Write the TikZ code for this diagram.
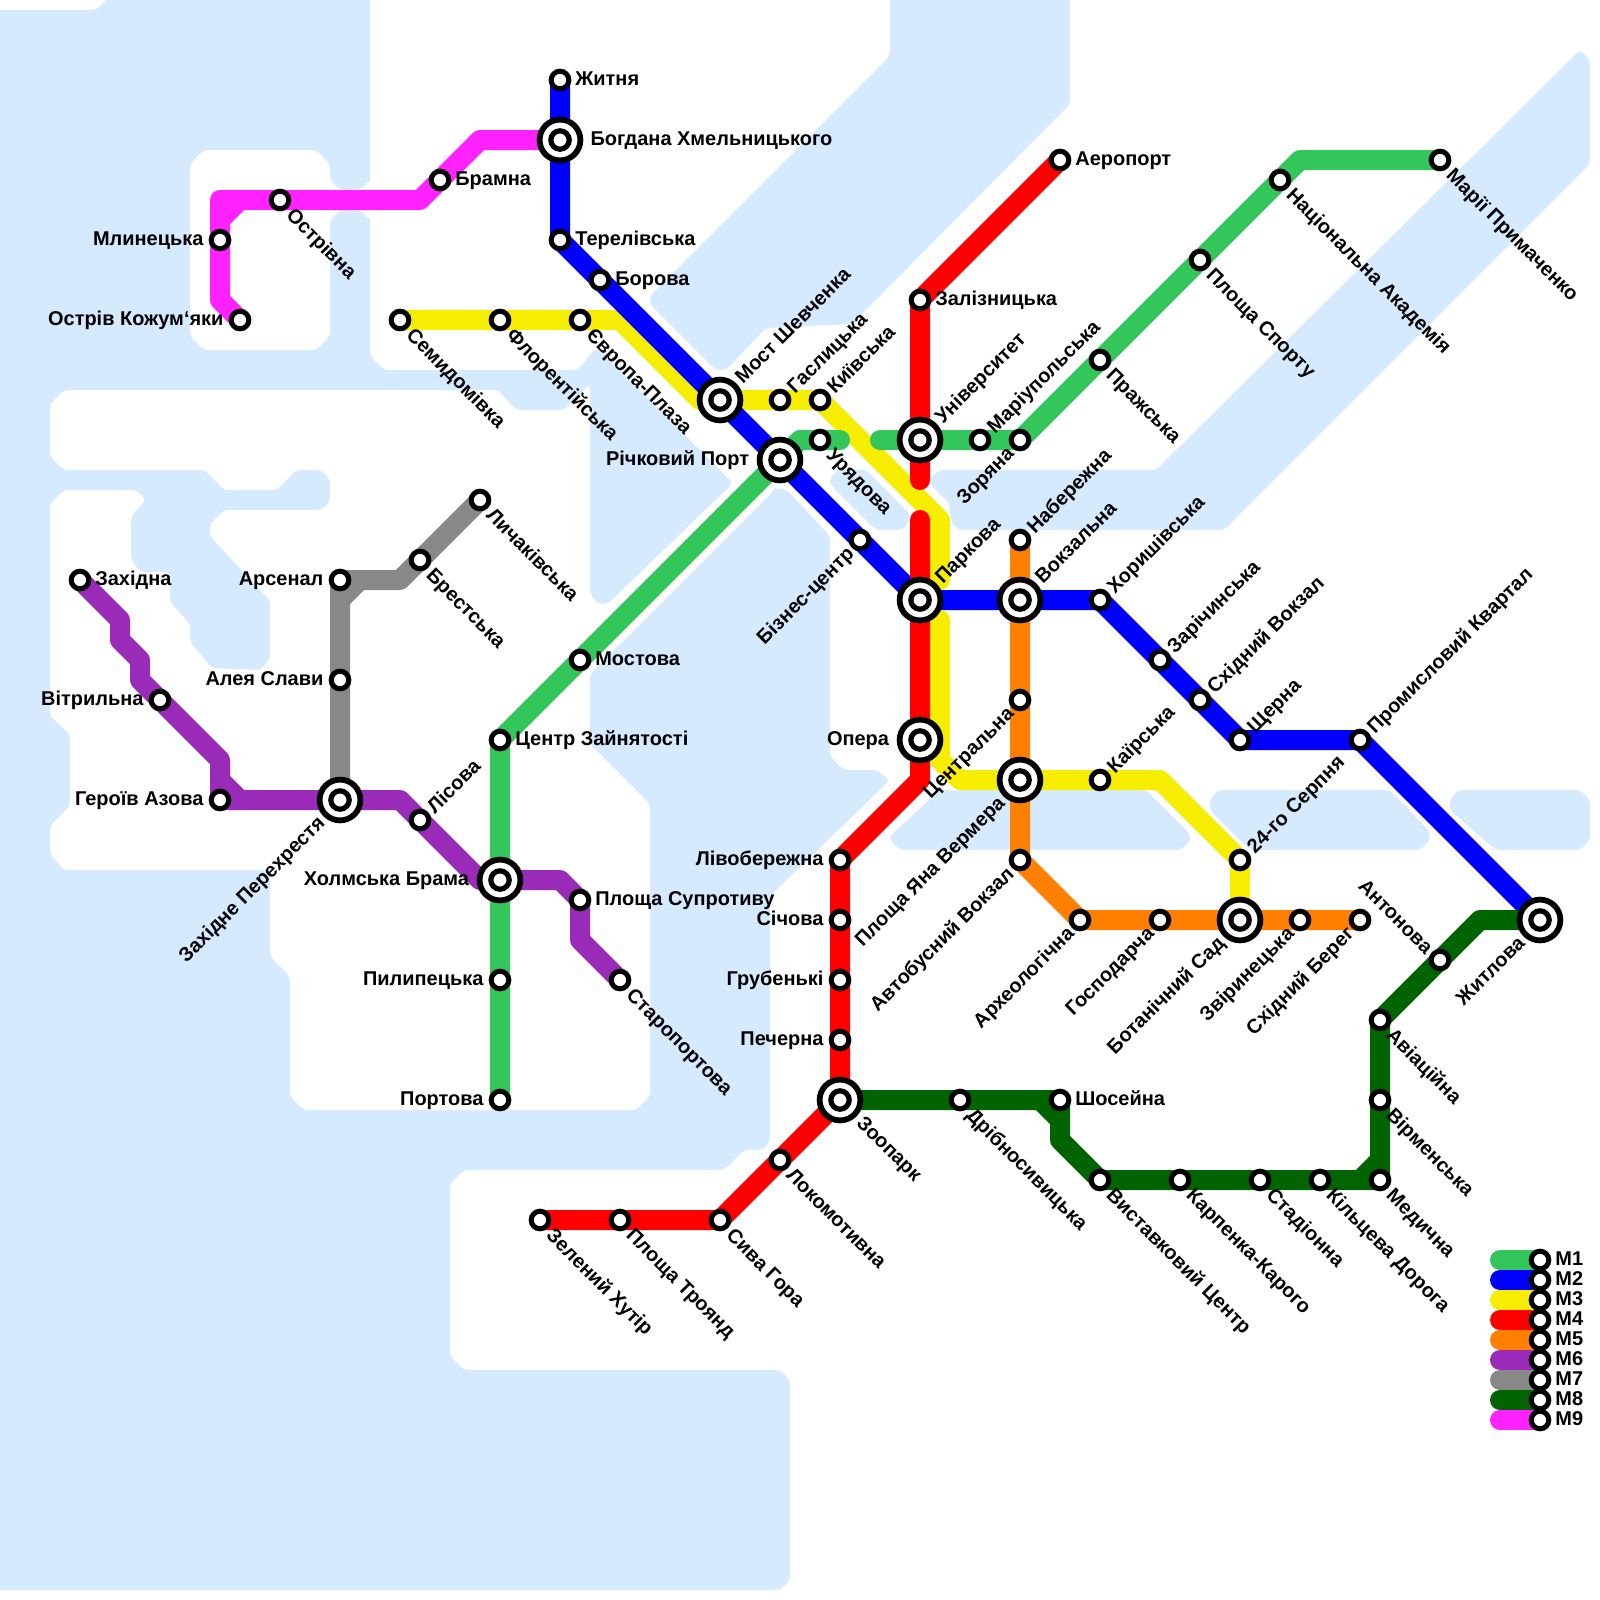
\documentclass[tikz,border=0pt]{standalone}
\usepackage{fontspec}
\setmainfont{Liberation Sans}
\usepackage{xcolor}
\usetikzlibrary{calc,positioning}
\definecolor{water}{HTML}{D5E9FF}
\definecolor{mone}{HTML}{33C65B}
\definecolor{mtwo}{HTML}{0000FF}
\definecolor{mthree}{HTML}{F6ED00}
\definecolor{mfour}{HTML}{FF0000}
\definecolor{mfive}{HTML}{FF8000}
\definecolor{msix}{HTML}{992BB8}
\definecolor{mseven}{HTML}{888888}
\definecolor{meight}{HTML}{006400}
\definecolor{mnine}{HTML}{FF22FF}
\pgfdeclarelayer{sea}
\pgfdeclarelayer{rails}
\pgfsetlayers{sea,rails,main}

\begin{document}
\begin{tikzpicture}[x=2.5mm,y=-2.5mm,
      stn/.style={circle,draw=black,fill=white,line width=0.63mm,minimum size=2.2mm,inner sep=0pt},
      xch/.style={circle,draw=black,fill=white,line width=0.72mm,minimum size=5.1mm,inner sep=0pt},
      core/.style={circle,draw=black,fill=white,line width=0.65mm,minimum size=2.3mm,inner sep=0pt},
      rail/.style={line width=2.5mm,line cap=round,line join=round},
      sea/.style={fill=water,rounded corners=1.5pt},
      land/.style={fill=white,rounded corners=1.5pt},
      txt/.style={font=\fontsize{7.1}{8}\selectfont\bfseries,inner sep=0pt,text height=1.8mm,text depth=0pt},
      txtr/.style={txt,anchor=west,xshift=1.85mm,yshift=0.25mm},
      txtl/.style={txt,anchor=east,xshift=-2mm,yshift=0.25mm},
      txtrx/.style={txt,anchor=west,xshift=3.75mm,yshift=0.25mm},
      txtlx/.style={txt,anchor=east,xshift=-3.8mm,yshift=0.25mm},
      txtdr/.style={txt,anchor=west,xshift=1.25mm,yshift=-1.4mm,rotate=-45},
      txtur/.style={txt,anchor=west,xshift=1.2mm,yshift=1.3mm,rotate=45},
      txtdl/.style={txt,anchor=east,xshift=-1.2mm,yshift=-1.2mm,rotate=45},
      txtul/.style={txt,anchor=east,xshift=-1.2mm,yshift=1.2mm,rotate=-45},
      txtdrx/.style={txt,anchor=west,xshift=2.55mm,yshift=-2.35mm,rotate=-45},
      txturx/.style={txt,anchor=west,xshift=2.2mm,yshift=2.55mm,rotate=45},
      txtdlx/.style={txt,anchor=east,xshift=-2.35mm,yshift=-2.35mm,rotate=45}]
    \useasboundingbox (0,0) rectangle (80,80);
    % water and land
    \begin{pgfonlayer}{sea}
    \path[sea] (-1,0.5) -- (4.8,0.5) -- (6.3,-1) -- (18.5,-1) -- (18.5,17.8) -- (19.2,18.5) -- (28.9,18.5) -- (29.7,17.5) -- (30,17.5)
      -- (36.8,24.3) -- (39.3,24.45) -- (41.5,26.8) -- (41.5,37.8) -- (42.2,38.5) -- (43.8,38.5) -- (44.5,39) -- (38.5,44.8)
      -- (38.5,57.1) -- (38.1,57.5) -- (37.2,57.5) -- (36.2,58.5) -- (23.2,58.5) -- (22.5,59.2) -- (22.5,67.8) -- (23.2,68.5)
      -- (39,68.5) -- (39.5,69) -- (39.5,79) -- (39,79.5) -- (-1,79.5) -- cycle;
    \path[sea] (44.5,-1) -- (53.5,-1) -- (53.5,5.2) -- (42.6,16.2) -- (38.3,16.4) -- (36.3,18.5) -- (35.8,18.5) -- (32.5,15.2)
      -- (32.5,14.8) -- (44.5,2.8) -- cycle;
    \path[sea] (79,2.5) -- (79.5,3) -- (79.5,8.2) -- (61.2,26.5) -- (47.9,26.5) -- (47.5,26) -- (47.5,25.2) -- (46.5,24.2)
      -- (46.5,23.9) -- (47,23.5) -- (57.8,23.5) -- cycle;
    \path[sea] (41.9,23.5) -- (43.3,23.5) -- (45.5,25.7) -- (45.5,26) -- (45.1,26.5) -- (43.8,26.5) -- (41.5,24.2) -- (41.5,23.9) -- cycle;
    \path[sea] (47,39.5) -- (50.5,39.5) -- (50.5,42.5) -- (45,42.5) -- (44.5,42) -- (44.5,41.8) -- cycle;
    \path[sea] (51.5,39.5) -- (57.3,39.5) -- (59.5,41.7) -- (59.5,42.1) -- (59,42.5) -- (51.5,42.5) -- cycle;
    \path[sea] (60.9,39.5) -- (69.5,39.5) -- (71.5,41.6) -- (71.5,42) -- (71,42.5) -- (62.5,42.5) -- (60.5,40.5) -- (60.5,40) -- cycle;
    \path[sea] (72.9,39.5) -- (79,39.5) -- (79.5,40) -- (79.5,42) -- (79,42.5) -- (74.8,42.5) -- (72.5,40.5) -- (72.5,40) -- cycle;
    \path[land] (10.2,7.5) -- (15.8,7.5) -- (16.5,8.2) -- (16.5,9) -- (17,9.5) -- (18,9.5) -- (18.5,9) -- (19,9) -- (19,11) -- (18.5,11)
      -- (18,10.5) -- (17,10.5) -- (16.5,11) -- (16.5,16.8) -- (15.8,17.5) -- (10.2,17.5) -- (9.5,16.8) -- (9.5,8.2) -- cycle;
    \path[land] (3.2,19.5) -- (24.9,19.5) -- (25.8,20.5) -- (28.2,20.5) -- (29.5,19.2) -- (29.5,29.7) -- (29.9,30.2) -- (30.4,30.2)
      -- (36.2,24.6) -- (36.6,24.2) -- (36.6,23.8) -- (38.75,23.8) -- (38.75,24.45) -- (29.5,33.7) -- (29.5,37.2) -- (32.5,40.2)
      -- (32.5,54.8) -- (31.8,55.5) -- (15.2,55.5) -- (14.5,54.8) -- (14.5,48.8) -- (13.5,47.8) -- (13.5,43.5) -- (3.2,43.5)
      -- (2.5,42.7) -- (2.5,41.3) -- (3.5,40.3) -- (3.5,36.7) -- (2.5,35.8) -- (2.5,25.2) -- (3.2,24.5) -- (6.8,24.5) -- (7.3,25)
      -- (6.55,25.8) -- (6.55,28) -- (7,28.6) -- (8.5,28.6) -- (8.5,30.1) -- (9.5,31.2) -- (9.5,32.1) -- (10.6,33.4) -- (13,33.5)
      -- (13.5,33) -- (13.5,30) -- (13,29.5) -- (10.5,26.8) -- (10.5,26.2) -- (11.2,25.5) -- (16.1,25.5) -- (16.5,25.1) -- (16.5,24)
      -- (16.1,23.5) -- (14.8,23.5) -- (13.85,24.5) -- (11.2,24.5) -- (10.25,23.5) -- (3.2,23.5) -- (2.5,22.8) -- (2.5,20.2) -- cycle;
    \end{pgfonlayer}
    % M1
    \node[stn] (portova) at (25,55) {}; \node[txtl] (portovat) at (portova) {Портова};
    \node[stn] (pylypetska) at (25,49) {}; \node[txtl] (pylypetskat) at (pylypetska) {Пилипецька};
    \node[xch] (kholmska) at (25,44) {}; \node[core] (kholmskain) at (kholmska) {}; \node[txtlx] (kholmskat) at (kholmska) {Холмська Брама};
    \node[stn] (tsentr) at (25,37) {}; \node[txtr] (tsentrt) at (tsentr) {Центр Зайнятості};
    \node[stn] (mostova) at (29,33) {}; \node[txtr] (mostovat) at (mostova) {Мостова};
    \node[xch] (richkovyi) at (39,23) {}; \node[core] (richkovyiin) at (richkovyi) {}; \node[txtlx] (richkovyit) at (richkovyi) {Річковий Порт};
    \node[stn] (uriadova) at (41,22) {}; \node[txtdr] (uriadovat) at (uriadova) {Урядова};
    \node[xch] (universytet) at (46,22) {}; \node[core] (universytetin) at (universytet) {}; \node[txturx] (universytett) at (universytet) {Університет};
    \node[stn] (mariupolska) at (49,22) {}; \node[txtur] (mariupolskat) at (mariupolska) {Маріупольська};
    \node[stn] (zoriana) at (51,22) {}; \node[txtdl] (zorianat) at (zoriana) {Зоряна};
    \node[stn] (prazka) at (55,18) {}; \node[txtdr] (prazkat) at (prazka) {Пражська};
    \node[stn] (sport) at (60,13) {}; \node[txtdr] (sportt) at (sport) {Площа Спорту};
    \node[stn] (akademia) at (64,9) {}; \node[txtdr] (akademiat) at (akademia) {Національна Академія};
    \node[stn] (prymachenko) at (72,8) {}; \node[txtdr] (prymachenkot) at (prymachenko) {Марії Примаченко};
    % M2
    \node[stn] (zhytnia) at (28,4) {}; \node[txtr] (zhytniat) at (zhytnia) {Житня};
    \node[xch] (bohdana) at (28,7) {}; \node[core] (bohdanain) at (bohdana) {}; \node[txtrx] (bohdanat) at (bohdana) {Богдана Хмельницького};
    \node[stn] (terelivska) at (28,12) {}; \node[txtr] (terelivskat) at (terelivska) {Терелівська};
    \node[stn] (borova) at (30,14) {}; \node[txtr] (borovat) at (borova) {Борова};
    \node[xch] (shevchenka) at (36,20) {}; \node[core] (shevchenkain) at (shevchenka) {}; \node[txturx] (shevchenkat) at (shevchenka) {Мост Шевченка};
    \node[stn] (biznes) at (43,27) {}; \node[txtdl] (biznest) at (biznes) {Бізнес-центр};
    \node[xch] (parkova) at (46,30) {}; \node[core] (parkovain) at (parkova) {}; \node[txturx] (parkovat) at (parkova) {Паркова};
    \node[xch] (vokzalna) at (51,30) {}; \node[core] (vokzalnain) at (vokzalna) {}; \node[txturx] (vokzalnat) at (vokzalna) {Вокзальна};
    \node[stn] (khoryshivska) at (55,30) {}; \node[txtur] (khoryshivskat) at (khoryshivska) {Хоришівська};
    \node[stn] (zarichynska) at (58,33) {}; \node[txtur] (zarichynskat) at (zarichynska) {Зарічинська};
    \node[stn] (skhidnyi) at (60,35) {}; \node[txtur] (skhidnyit) at (skhidnyi) {Східний Вокзал};
    \node[stn] (shcherna) at (62,37) {}; \node[txtur] (shchernat) at (shcherna) {Щерна};
    \node[stn] (promyslovyi) at (68,37) {}; \node[txtur] (promyslovyit) at (promyslovyi) {Промисловий Квартал};
    \node[xch] (zhytlova) at (77,46) {}; \node[core] (zhytlovain) at (zhytlova) {}; \node[txtdlx] (zhytlovat) at (zhytlova) {Житлова};
    % M3
    \node[stn] (semydomivka) at (20,16) {}; \node[txtdr] (semydomivkat) at (semydomivka) {Семидомівка};
    \node[stn] (florentiiska) at (25,16) {}; \node[txtdr] (florentiiskat) at (florentiiska) {Флорентійська};
    \node[stn] (yevropa) at (29,16) {}; \node[txtdr] (yevropat) at (yevropa) {Європа-Плаза};
    \node[stn] (haslytska) at (39,20) {}; \node[txtur] (haslytskat) at (haslytska) {Гаслицька};
    \node[stn] (kyivska) at (41,20) {}; \node[txtur] (kyivskat) at (kyivska) {Київська};
    \node[xch] (yana) at (51,39) {}; \node[core] (yanain) at (yana) {}; \node[txtdlx] (yanat) at (yana) {Площа Яна Вермера};
    \node[stn] (kairska) at (55,39) {}; \node[txtur] (kairskat) at (kairska) {Каїрська};
    \node[stn] (serpnia) at (62,43) {}; \node[txtur] (serpniat) at (serpnia) {24-го Серпня};
    \node[xch] (botanichnyi) at (62,46) {}; \node[core] (botanichnyiin) at (botanichnyi) {}; \node[txtdlx] (botanichnyit) at (botanichnyi) {Ботанічний Сад};
    % M4
    \node[stn] (aeroport) at (53,8) {}; \node[txtr] (aeroportt) at (aeroport) {Аеропорт};
    \node[stn] (zaliznytska) at (46,15) {}; \node[txtr] (zaliznytskat) at (zaliznytska) {Залізницька};
    \node[xch] (opera) at (46,37) {}; \node[core] (operain) at (opera) {}; \node[txtlx] (operat) at (opera) {Опера};
    \node[stn] (livoberezhna) at (42,43) {}; \node[txtl] (livoberezhnat) at (livoberezhna) {Лівобережна};
    \node[stn] (sichova) at (42,46) {}; \node[txtl] (sichovat) at (sichova) {Січова};
    \node[stn] (hrubenki) at (42,49) {}; \node[txtl] (hrubenkit) at (hrubenki) {Грубенькі};
    \node[stn] (pecherna) at (42,52) {}; \node[txtl] (pechernat) at (pecherna) {Печерна};
    \node[xch] (zoopark) at (42,55) {}; \node[core] (zooparkin) at (zoopark) {}; \node[txtdrx] (zooparkt) at (zoopark) {Зоопарк};
    \node[stn] (lokomotyvna) at (39,58) {}; \node[txtdr] (lokomotyvnat) at (lokomotyvna) {Локомотивна};
    \node[stn] (syva) at (36,61) {}; \node[txtdr] (syvat) at (syva) {Сива Гора};
    \node[stn] (troiand) at (31,61) {}; \node[txtdr] (troiandt) at (troiand) {Площа Троянд};
    \node[stn] (khutir) at (27,61) {}; \node[txtdr] (khutirt) at (khutir) {Зелений Хутір};
    % M5
    \node[stn] (naberezhna) at (51,27) {}; \node[txtur] (naberezhnat) at (naberezhna) {Набережна};
    \node[stn] (tsentralna) at (51,35) {}; \node[txtdl] (tsentralnat) at (tsentralna) {Центральна};
    \node[stn] (avtobusnyi) at (51,43) {}; \node[txtdl] (avtobusnyit) at (avtobusnyi) {Автобусний Вокзал};
    \node[stn] (arkheolohichna) at (54,46) {}; \node[txtdl] (arkheolohichnat) at (arkheolohichna) {Археологічна};
    \node[stn] (hospodarcha) at (58,46) {}; \node[txtdl] (hospodarchat) at (hospodarcha) {Господарча};
    \node[stn] (zvirynetska) at (65,46) {}; \node[txtdl] (zvirynetskat) at (zvirynetska) {Звіринецька};
    \node[stn] (bereh) at (68,46) {}; \node[txtdl] (bereht) at (bereh) {Східний Берег};
    % M6
    \node[stn] (zakhidna) at (4,29) {}; \node[txtr] (zakhidnat) at (zakhidna) {Західна};
    \node[stn] (vitrylna) at (8,35) {}; \node[txtl] (vitrylnat) at (vitrylna) {Вітрильна};
    \node[stn] (heroiv) at (11,40) {}; \node[txtl] (heroivt) at (heroiv) {Героїв Азова};
    \node[xch] (perekhrestia) at (17,40) {}; \node[core] (perekhrestiain) at (perekhrestia) {}; \node[txtdlx] (perekhrestiat) at (perekhrestia) {Західне Перехрестя};
    \node[stn] (lisova) at (21,41) {}; \node[txtur] (lisovat) at (lisova) {Лісова};
    \node[stn] (suprotyvu) at (29,45) {}; \node[txtr] (suprotyvut) at (suprotyvu) {Площа Супротиву};
    \node[stn] (staroportova) at (31,49) {}; \node[txtdr] (staroportovat) at (staroportova) {Старопортова};
    % M7
    \node[stn] (arsenal) at (17,29) {}; \node[txtl] (arsenalt) at (arsenal) {Арсенал};
    \node[stn] (aleia) at (17,34) {}; \node[txtl] (aleiat) at (aleia) {Алея Слави};
    \node[stn] (brestska) at (21,28) {}; \node[txtdr] (brestskat) at (brestska) {Брестська};
    \node[stn] (lychakivska) at (24,25) {}; \node[txtdr] (lychakivskat) at (lychakivska) {Личаківська};
    % M8
    \node[stn] (dribnosyvytska) at (48,55) {}; \node[txtdr] (dribnosyvytskat) at (dribnosyvytska) {Дрібносивицька};
    \node[stn] (shoseina) at (53,55) {}; \node[txtr] (shoseinat) at (shoseina) {Шосейна};
    \node[stn] (vystavkovyi) at (55,59) {}; \node[txtdr] (vystavkovyit) at (vystavkovyi) {Виставковий Центр};
    \node[stn] (karpenka) at (59,59) {}; \node[txtdr] (karpenkat) at (karpenka) {Карпенка-Карого};
    \node[stn] (stadionna) at (63,59) {}; \node[txtdr] (stadionnat) at (stadionna) {Стадіонна};
    \node[stn] (kiltseva) at (66,59) {}; \node[txtdr] (kiltsevat) at (kiltseva) {Кільцева Дорога};
    \node[stn] (medychna) at (69,59) {}; \node[txtdr] (medychnat) at (medychna) {Медична};
    \node[stn] (virmenska) at (69,55) {}; \node[txtdr] (virmenskat) at (virmenska) {Вірменська};
    \node[stn] (aviatsiina) at (69,51) {}; \node[txtdr] (aviatsiinat) at (aviatsiina) {Авіаційна};
    \node[stn] (antonova) at (72,48) {}; \node[txtul] (antonovat) at (antonova) {Антонова};
    % M9
    \node[stn] (kozhumiaky) at (12,16) {}; \node[txtl] (kozhumiakyt) at (kozhumiaky) {Острів Кожум‘яки};
    \node[stn] (mlynetska) at (11,12) {}; \node[txtl] (mlynetskat) at (mlynetska) {Млинецька};
    \node[stn] (ostrivna) at (14,10) {}; \node[txtdr] (ostrivnat) at (ostrivna) {Острівна};
    \node[stn] (bramna) at (22,9) {}; \node[txtr] (bramnat) at (bramna) {Брамна};
    % legend
    \node[stn] (keyone) at (77,63) {}; \node[txtr] (keyonet) at (keyone) {M1};
    \node[stn] (keytwo) at (77,64) {}; \node[txtr] (keytwot) at (keytwo) {M2};
    \node[stn] (keythree) at (77,65) {}; \node[txtr] (keythreet) at (keythree) {M3};
    \node[stn] (keyfour) at (77,66) {}; \node[txtr] (keyfourt) at (keyfour) {M4};
    \node[stn] (keyfive) at (77,67) {}; \node[txtr] (keyfivet) at (keyfive) {M5};
    \node[stn] (keysix) at (77,68) {}; \node[txtr] (keysixt) at (keysix) {M6};
    \node[stn] (keyseven) at (77,69) {}; \node[txtr] (keysevent) at (keyseven) {M7};
    \node[stn] (keyeight) at (77,70) {}; \node[txtr] (keyeightt) at (keyeight) {M8};
    \node[stn] (keynine) at (77,71) {}; \node[txtr] (keyninet) at (keynine) {M9};
    \coordinate (tailone) at (75,63);
    \coordinate (tailtwo) at (75,64);
    \coordinate (tailthree) at (75,65);
    \coordinate (tailfour) at (75,66);
    \coordinate (tailfive) at (75,67);
    \coordinate (tailsix) at (75,68);
    \coordinate (tailseven) at (75,69);
    \coordinate (taileight) at (75,70);
    \coordinate (tailnine) at (75,71);
    % bends
    \coordinate (onea) at (40,22);
    \coordinate (oneb) at (42,22);
    \coordinate (onec) at (44,22);
    \coordinate (oned) at (65,8);
    \coordinate (threea) at (31,16);
    \coordinate (threeb) at (35,20);
    \coordinate (threec) at (47,26);
    \coordinate (threed) at (47,29);
    \coordinate (threee) at (47,31);
    \coordinate (threef) at (47,38);
    \coordinate (threeg) at (48,39);
    \coordinate (threeh) at (58,39);
    \coordinate (foura) at (46,24);
    \coordinate (fourb) at (46,26);
    \coordinate (fourc) at (46,39);
    \coordinate (sixa) at (6,31);
    \coordinate (sixb) at (6,32);
    \coordinate (sixc) at (7,33);
    \coordinate (sixd) at (7,34);
    \coordinate (sixe) at (11,38);
    \coordinate (sixf) at (11,39);
    \coordinate (sixg) at (12,40);
    \coordinate (sixh) at (20,40);
    \coordinate (sixi) at (24,44);
    \coordinate (sixj) at (28,44);
    \coordinate (sixk) at (29,47);
    \coordinate (sevena) at (20,29);
    \coordinate (sevenb) at (17,30);
    \coordinate (sevenc) at (18,29);
    \coordinate (eighta) at (52,55);
    \coordinate (eightb) at (53,56);
    \coordinate (eightc) at (53,57);
    \coordinate (eightd) at (68,59);
    \coordinate (eighte) at (69,58);
    \coordinate (eightf) at (74,46);
    \coordinate (ninea) at (11,15);
    \coordinate (nineb) at (11,10);
    \coordinate (ninec) at (21,10);
    \coordinate (nined) at (24,7);
    \coordinate (ninee) at (11,11);
    \coordinate (ninef) at (12,10);
    % lines
    \begin{pgfonlayer}{rails}
    \draw[rail,mthree] (semydomivka.center) -- (florentiiska.center) -- (yevropa.center) -- (threea) -- (threeb) -- (shevchenka.center) -- (haslytska.center) -- (kyivska.center) -- (threec) -- (threed);
    \draw[rail,mthree] (threee) -- (threef) -- (threeg) -- (yana.center) -- (kairska.center) -- (threeh) -- (serpnia.center) -- (botanichnyi.center);
    \draw[rail,mone] (portova.center) -- (pylypetska.center) -- (kholmska.center) -- (tsentr.center) -- (mostova.center) -- (richkovyi.center) -- (onea) -- (uriadova.center) -- (oneb);
    \draw[rail,mone] (onec) -- (universytet.center) -- (mariupolska.center) -- (zoriana.center) -- (prazka.center) -- (sport.center) -- (akademia.center) -- (oned) -- (prymachenko.center);
    \draw[rail,mtwo] (zhytnia.center) -- (bohdana.center) -- (terelivska.center) -- (borova.center) -- (shevchenka.center) -- (richkovyi.center) -- (biznes.center) -- (parkova.center) -- (vokzalna.center) -- (khoryshivska.center) -- (zarichynska.center) -- (skhidnyi.center) -- (shcherna.center) -- (promyslovyi.center) -- (zhytlova.center);
    \draw[rail,mfour] (aeroport.center) -- (zaliznytska.center) -- (universytet.center) -- (foura);
    \draw[rail,mfour] (fourb) -- (parkova.center) -- (opera.center) -- (fourc) -- (livoberezhna.center) -- (sichova.center) -- (hrubenki.center) -- (pecherna.center) -- (zoopark.center) -- (lokomotyvna.center) -- (syva.center) -- (troiand.center) -- (khutir.center);
    \draw[rail,mfive] (naberezhna.center) -- (vokzalna.center) -- (tsentralna.center) -- (yana.center) -- (avtobusnyi.center) -- (arkheolohichna.center) -- (hospodarcha.center) -- (botanichnyi.center) -- (zvirynetska.center) -- (bereh.center);
    \draw[rail,msix] (zakhidna.center) -- (sixa) -- (sixb) -- (sixc) -- (sixd) -- (vitrylna.center) -- (sixe) -- (heroiv.center) -- (perekhrestia.center) -- (sixh) -- (lisova.center) -- (sixi) -- (kholmska.center) -- (sixj) -- (suprotyvu.center) -- (sixk) -- (staroportova.center) (sixf) -- (sixg);
    \draw[rail,mseven] (lychakivska.center) -- (brestska.center) -- (sevena) -- (arsenal.center) -- (aleia.center) -- (perekhrestia.center) (sevenb) -- (sevenc);
    \draw[rail,meight] (zoopark.center) -- (dribnosyvytska.center) -- (shoseina.center) -- (eightc) -- (vystavkovyi.center) -- (karpenka.center) -- (stadionna.center) -- (kiltseva.center) -- (medychna.center) -- (virmenska.center) -- (aviatsiina.center) -- (antonova.center) -- (eightf) -- (zhytlova.center) (eighta) -- (eightb) (eightd) -- (eighte);
    \draw[rail,mnine] (kozhumiaky.center) -- (ninea) -- (mlynetska.center) -- (nineb) -- (ostrivna.center) -- (ninec) -- (bramna.center) -- (nined) -- (bohdana.center) (ninee) -- (ninef);
    \draw[rail,mone] (tailone) -- (keyone.center);
    \draw[rail,mtwo] (tailtwo) -- (keytwo.center);
    \draw[rail,mthree] (tailthree) -- (keythree.center);
    \draw[rail,mfour] (tailfour) -- (keyfour.center);
    \draw[rail,mfive] (tailfive) -- (keyfive.center);
    \draw[rail,msix] (tailsix) -- (keysix.center);
    \draw[rail,mseven] (tailseven) -- (keyseven.center);
    \draw[rail,meight] (taileight) -- (keyeight.center);
    \draw[rail,mnine] (tailnine) -- (keynine.center);
    \end{pgfonlayer}
\end{tikzpicture}
\end{document}
